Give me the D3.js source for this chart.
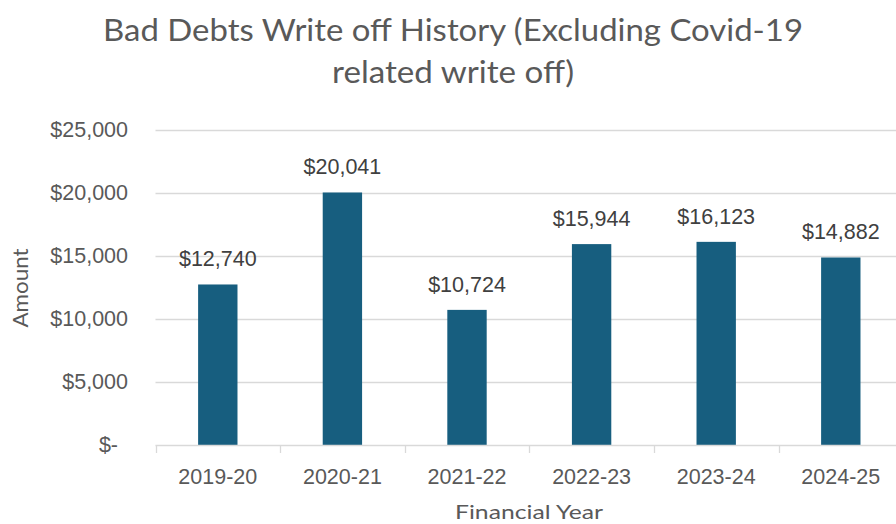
<!DOCTYPE html>
<html>
<head>
<meta charset="utf-8">
<script src="https://cdn.jsdelivr.net/npm/d3@7"></script>
<style>
  html, body { margin: 0; padding: 0; background: #fff; }
  svg { display: block; }
</style>
</head>
<body>
<svg id="chart" width="896" height="524"></svg>
<script>
// Bad debts written off per financial year (excluding Covid-19 related write offs)
const years = ["2019-20", "2020-21", "2021-22", "2022-23", "2023-24", "2024-25"];
const amounts = [12740, 20041, 10724, 15944, 16123, 14882];
const yTicks = [0, 5000, 10000, 15000, 20000, 25000];
const titleLines = ["Bad Debts Write off History (Excluding Covid-19", "related write off)"];
const yTitle = "Amount";
const xTitle = "Financial Year";

const W = 896, H = 524;
const plot = { left: 155.5, right: 903.1, top: 130, bottom: 445 };

const svg = d3.select("#chart");

const x = d3.scaleBand()
  .domain(years)
  .range([plot.left, plot.right])
  .paddingInner(0.684)
  .paddingOuter(0.342);

const y = d3.scaleLinear()
  .domain([0, 25000])
  .range([plot.bottom, plot.top]);

const money = v => v === 0 ? "$-" : "$" + d3.format(",")(v);

const tickFont = "'Liberation Sans', Arial, sans-serif";
const titleFont = "Lato, 'Open Sans', sans-serif";

// Horizontal gridlines
svg.append("g")
  .selectAll("line")
  .data(yTicks.filter(t => t > 0))
  .join("line")
  .attr("x1", plot.left)
  .attr("x2", W)
  .attr("y1", d => Math.round(y(d)) + 0.5)
  .attr("y2", d => Math.round(y(d)) + 0.5)
  .attr("stroke", "#d9d9d9")
  .attr("stroke-width", 1.3);

// Y axis labels
const yAxis = svg.append("g")
  .attr("transform", `translate(${plot.left},0)`)
  .call(d3.axisLeft(y).tickValues(yTicks).tickFormat(money).tickSize(0).tickPadding(27.5));
yAxis.select(".domain").remove();
yAxis.selectAll("text")
  .attr("font-family", tickFont)
  .attr("font-size", 21.5)
  .attr("fill", "#595959")
  .attr("dx", d => d === 0 ? -10 : 0);

// Bars
svg.append("g")
  .selectAll("rect")
  .data(amounts)
  .join("rect")
  .attr("x", (d, i) => x(years[i]))
  .attr("width", x.bandwidth())
  .attr("y", d => y(d))
  .attr("height", d => y(0) - y(d))
  .attr("fill", "#175e7f");

// Value labels
svg.append("g")
  .selectAll("text")
  .data(amounts)
  .join("text")
  .attr("x", (d, i) => x(years[i]) + x.bandwidth() / 2)
  .attr("y", d => y(d) - 18)
  .attr("text-anchor", "middle")
  .attr("font-family", tickFont)
  .attr("font-size", 21.5)
  .attr("fill", "#404040")
  .text(d => money(d));

// X axis: baseline, boundary ticks and category labels
const step = x.step();
const xAxis = svg.append("g");
xAxis.append("line")
  .attr("x1", plot.left).attr("x2", W)
  .attr("y1", plot.bottom + 0.5).attr("y2", plot.bottom + 0.5)
  .attr("stroke", "#d9d9d9").attr("stroke-width", 1.3);
xAxis.selectAll("line.tick")
  .data(years)
  .join("line")
  .attr("class", "tick")
  .attr("x1", d => Math.round(x(d) - x.paddingOuter() * step) + 0.5)
  .attr("x2", d => Math.round(x(d) - x.paddingOuter() * step) + 0.5)
  .attr("y1", plot.bottom)
  .attr("y2", plot.bottom + 8)
  .attr("stroke", "#d9d9d9").attr("stroke-width", 1.3);
xAxis.selectAll("text")
  .data(years)
  .join("text")
  .attr("x", d => x(d) + x.bandwidth() / 2)
  .attr("y", 484)
  .attr("text-anchor", "middle")
  .attr("font-family", tickFont)
  .attr("font-size", 21.5)
  .attr("fill", "#595959")
  .text(d => d);

// Chart title
svg.append("g")
  .selectAll("text")
  .data(titleLines)
  .join("text")
  .attr("x", 453)
  .attr("y", (d, i) => 41 + i * 42)
  .attr("text-anchor", "middle")
  .attr("font-family", titleFont)
  .attr("font-size", 31)
  .attr("fill", "#595959")
  .attr("textLength", (d, i) => i === 0 ? 700 : 242)
  .attr("lengthAdjust", "spacingAndGlyphs")
  .text(d => d);

// Axis titles
svg.append("text")
  .attr("transform", "translate(28,288) rotate(-90)")
  .attr("text-anchor", "middle")
  .attr("font-family", titleFont)
  .attr("font-size", 21)
  .attr("fill", "#595959")
  .attr("textLength", 79)
  .attr("lengthAdjust", "spacingAndGlyphs")
  .text(yTitle);

svg.append("text")
  .attr("x", 529)
  .attr("y", 518.5)
  .attr("text-anchor", "middle")
  .attr("font-family", titleFont)
  .attr("font-size", 19)
  .attr("fill", "#595959")
  .attr("textLength", 148)
  .attr("lengthAdjust", "spacingAndGlyphs")
  .text(xTitle);
</script>
</body>
</html>
